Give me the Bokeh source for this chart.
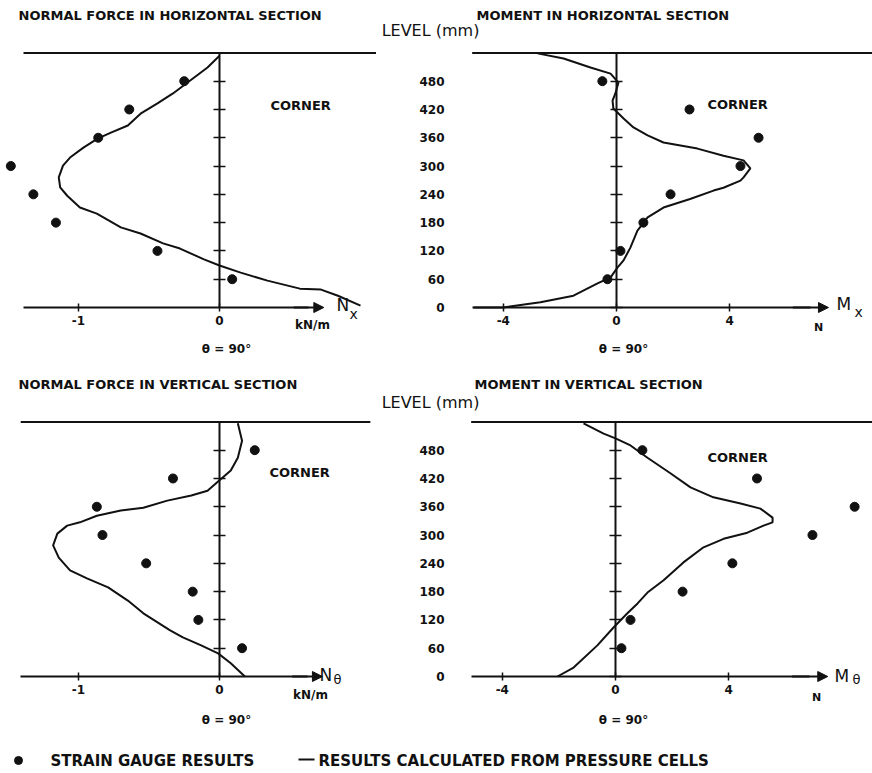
from bokeh.plotting import figure
from bokeh.models import Range1d, LinearAxis, FixedTicker, Arrow, NormalHead
from bokeh.core.properties import value
from bokeh.embed import file_html
from bokeh.resources import INLINE

# ---------------- data ----------------
gauge_levels = [480, 420, 360, 300, 240, 180, 120, 60]

# Normal force in horizontal section, N_x (kN/m)
nx_gauge = [-0.25, -0.64, -0.86, -1.48, -1.32, -1.16, -0.44, 0.09]
nx_curve_level = [534, 509, 481, 454, 433, 411, 386, 371, 358, 339, 318, 301, 276, 255, 237,
                  212, 199, 170, 157, 136, 125, 102, 89, 74, 57, 40, 38, 25, 4]
nx_curve = [0.0, -0.085, -0.21, -0.33, -0.44, -0.56, -0.65, -0.77, -0.865, -0.965, -1.06, -1.11,
            -1.14, -1.13, -1.08, -0.99, -0.87, -0.70, -0.56, -0.40, -0.28, -0.11, 0.0, 0.15, 0.34,
            0.57, 0.72, 0.84, 1.0]

# Moment in horizontal section, M_x (N)
mx_gauge = [-0.5, 2.58, 5.02, 4.38, 1.91, 0.95, 0.14, -0.32]
mx_curve_level = [539, 528, 509, 496, 477, 454, 439, 422, 401, 382, 365, 350, 337, 322, 312, 295,
                  276, 269, 254, 248, 230, 212, 191, 163, 127, 100, 85, 64, 51, 25, 11, 0, 0]
mx_curve = [-2.79, -1.87, -0.92, -0.21, 0.07, -0.04, -0.14, -0.11, 0.25, 0.6, 1.1, 1.66, 2.86,
            3.78, 4.49, 4.73, 4.49, 4.38, 3.78, 3.43, 2.6, 1.66, 1.1, 0.74, 0.49, 0.25, 0.04,
            -0.21, -0.67, -1.52, -2.69, -4.0, -5.05]

# Normal force in vertical section, N_theta (kN/m)
nt_gauge = [0.25, -0.33, -0.87, -0.83, -0.52, -0.19, -0.15, 0.16]
nt_curve_level = [537, 500, 464, 437, 416, 394, 384, 373, 358, 352, 341, 327, 320, 303, 278, 252,
                  225, 208, 189, 161, 134, 98, 83, 66, 49, 28, 0]
nt_curve = [0.13, 0.16, 0.13, 0.08, 0.0, -0.085, -0.2, -0.37, -0.54, -0.70, -0.87, -0.99, -1.08,
            -1.15, -1.18, -1.14, -1.06, -0.94, -0.79, -0.65, -0.54, -0.35, -0.26, -0.13, -0.01,
            0.08, 0.18]

# Moment in vertical section, M_theta (N)
mt_gauge = [0.95, 5.0, 8.45, 6.96, 4.13, 2.37, 0.53, 0.21]
mt_curve_level = [537, 515, 505, 490, 464, 431, 401, 380, 367, 356, 337, 327, 320, 305, 292, 274,
                  242, 204, 178, 155, 134, 104, 66, 19, 0]
mt_curve = [-1.13, -0.42, 0.0, 0.53, 1.13, 1.94, 2.65, 3.46, 4.42, 5.12, 5.55, 5.55, 5.23, 4.66,
            3.82, 3.11, 2.40, 1.70, 1.13, 0.78, 0.42, -0.07, -0.64, -1.48, -2.05]

level_ticks = [0, 60, 120, 180, 240, 300, 360, 420, 480]
force_ticks = [-1, 0]
moment_ticks = [-4, 0, 4]
tick_text = {-1: "-1", -4: "-4"}

# ---------------- layout (image pixels) ----------------
W, H = 872, 773
X0, Y0 = 0, 0
FONT = value("DejaVu Sans")

p = figure(width=W, height=H, output_backend="svg", toolbar_location=None,
           x_range=Range1d(X0, X0 + W), y_range=Range1d(Y0 + H, Y0),
           x_axis_type=None, y_axis_type=None, min_border=0)
p.outline_line_color = None
p.background_fill_color = "white"
p.border_fill_color = "white"

INK = "#111111"

panels = [
    dict(name="tl", x0=219, sx=141.0, y0=307, xmin=-1.39, xtip=0.74, topmax=1.11,
         ticks=force_ticks, ylabels=False, gauge=nx_gauge, cl=nx_curve_level, cv=nx_curve),
    dict(name="tr", x0=616, sx=28.3, y0=307, xmin=-5.1, xtip=7.49, topmax=9.1,
         ticks=moment_ticks, ylabels=True, gauge=mx_gauge, cl=mx_curve_level, cv=mx_curve),
    dict(name="bl", x0=219, sx=141.0, y0=676, xmin=-1.41, xtip=0.73, topmax=1.07,
         ticks=force_ticks, ylabels=False, gauge=nt_gauge, cl=nt_curve_level, cv=nt_curve),
    dict(name="br", x0=615, sx=28.3, y0=676, xmin=-5.1, xtip=7.5, topmax=9.1,
         ticks=moment_ticks, ylabels=True, gauge=mt_gauge, cl=mt_curve_level, cv=mt_curve),
]
SY = 0.4715  # px per mm
TOP_LEVEL = 540

for pn in panels:
    xn, yn = pn["name"] + "_x", pn["name"] + "_y"
    p.extra_x_ranges[xn] = Range1d((X0 - pn["x0"]) / pn["sx"], (X0 + W - pn["x0"]) / pn["sx"])
    p.extra_y_ranges[yn] = Range1d((pn["y0"] - (Y0 + H)) / SY, (pn["y0"] - Y0) / SY)

    ticks = level_ticks if pn["ylabels"] else level_ticks[1:]
    va = LinearAxis(x_range_name=xn, y_range_name=yn, fixed_location=0,
                    bounds=(0, TOP_LEVEL), ticker=FixedTicker(ticks=ticks),
                    axis_line_width=2, axis_line_color=INK,
                    major_tick_in=6, major_tick_out=6, major_tick_line_width=1.5,
                    major_tick_line_color=INK, minor_tick_line_color=None,
                    major_label_text_font="DejaVu Sans", major_label_text_font_style="bold",
                    major_label_text_font_size="12px", major_label_text_color=INK,
                    major_label_standoff=pn["x0"] - 6 - 444)
    if not pn["ylabels"]:
        va.major_label_text_color = None
    p.add_layout(va, "left")

    ha = LinearAxis(x_range_name=xn, y_range_name=yn, fixed_location=0,
                    bounds=(pn["xmin"], pn["xtip"] - 0.05 * (pn["xtip"] - pn["xmin"])),
                    ticker=FixedTicker(ticks=pn["ticks"]),
                    major_label_overrides=tick_text,
                    axis_line_width=2, axis_line_color=INK,
                    major_tick_in=4, major_tick_out=4, major_tick_line_width=1.5,
                    major_tick_line_color=INK, minor_tick_line_color=None,
                    major_label_text_font="DejaVu Sans", major_label_text_font_style="bold",
                    major_label_text_font_size="12px", major_label_text_color=INK,
                    major_label_standoff=4)
    p.add_layout(ha, "below")
    span = pn["xtip"] - pn["xmin"]
    p.add_layout(Arrow(end=NormalHead(size=10, fill_color=INK, line_color=INK),
                       x_start=pn["xtip"] - 0.1 * span, y_start=0, x_end=pn["xtip"], y_end=0,
                       line_width=2, line_color=INK, x_range_name=xn, y_range_name=yn))

    p.segment(x0=[pn["xmin"]], y0=[TOP_LEVEL], x1=[pn["topmax"]], y1=[TOP_LEVEL],
              line_width=2, line_color=INK, x_range_name=xn, y_range_name=yn)

    p.line(pn["cv"], pn["cl"], line_width=2, line_color=INK, x_range_name=xn, y_range_name=yn)
    p.scatter(pn["gauge"], gauge_levels, size=9, fill_color=INK, line_color=INK,
              x_range_name=xn, y_range_name=yn)

def txt(x, y, s, size="13px", align="left", bold=True):
    p.text(x=[x], y=[y], text=[s], text_font=FONT, text_font_size=size,
           text_font_style="bold" if bold else "normal", text_align=align,
           text_baseline="middle", text_color=INK)

# titles
txt(18, 15, "NORMAL FORCE IN HORIZONTAL SECTION")
txt(476, 15, "MOMENT IN HORIZONTAL SECTION")
txt(18, 384, "NORMAL FORCE IN VERTICAL SECTION")
txt(474, 384, "MOMENT IN VERTICAL SECTION")
txt(430, 30, "LEVEL (mm)", size="16px", align="center", bold=False)
txt(430, 402, "LEVEL (mm)", size="16px", align="center", bold=False)

# CORNER labels
txt(270, 105, "CORNER")
txt(707, 104, "CORNER")
txt(269, 472, "CORNER")
txt(707, 457, "CORNER")

# axis names
txt(336, 304, "N", size="17px", bold=False)
txt(349, 313, "x", size="14px", bold=False)
txt(836, 303, "M", size="17px", bold=False)
txt(854, 311, "x", size="14px", bold=False)
txt(319, 674, "N", size="17px", bold=False)
txt(333, 679, "θ", size="13px", bold=False)
txt(834, 675, "M", size="17px", bold=False)
txt(852, 679, "θ", size="13px", bold=False)

# units
txt(312, 324, "kN/m", size="12px", align="center")
txt(818, 327, "N", size="11px", align="center")
txt(310, 694, "kN/m", size="12px", align="center")
txt(816, 697, "N", size="11px", align="center")

# theta notes
txt(226, 348, "θ = 90°", size="12px", align="center")
txt(623, 348, "θ = 90°", size="12px", align="center")
txt(226, 719, "θ = 90°", size="12px", align="center")
txt(623, 719, "θ = 90°", size="12px", align="center")

# legend
p.scatter([18], [760], size=8, fill_color=INK, line_color=INK)
txt(50, 760, "STRAIN GAUGE RESULTS", size="15px")
p.segment(x0=[298], y0=[759], x1=[314], y1=[759], line_width=2, line_color=INK)
txt(318, 760, "RESULTS CALCULATED FROM PRESSURE CELLS", size="15px")

open("out.html", "w").write(file_html(p, INLINE))
